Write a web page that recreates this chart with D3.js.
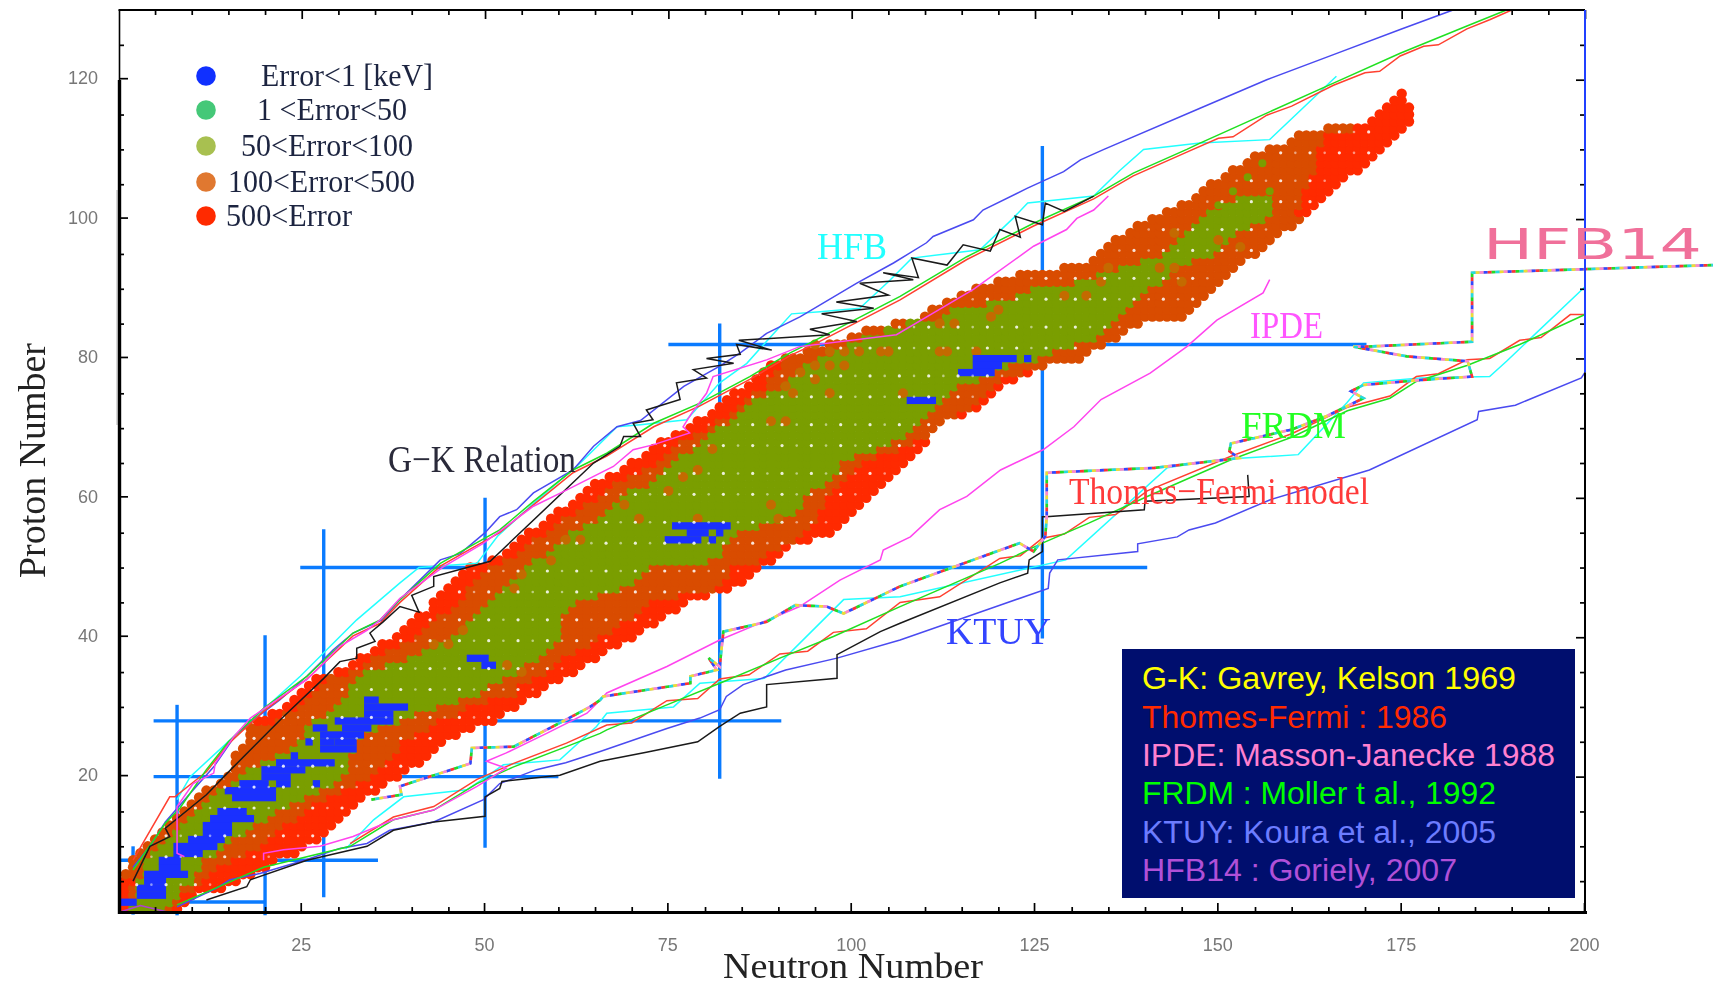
<!DOCTYPE html>
<html><head><meta charset="utf-8">
<script src="https://d3js.org/d3.v7.min.js"></script>
<style>html,body{margin:0;padding:0;background:#fff;overflow:hidden}svg{display:block;filter:blur(.45px)}</style>
</head><body><svg id="c" width="1713" height="986"></svg>
<script>
// ---- nuclide band, one entry per proton number Z = 1..118 ----
const nMin    =[0,0,0,0,0,1,2,2,3,4,5,6,7,8,9,10,11,12,14,15,16,16,16,17,18,18,18,19,21,23,24,25,26,27,30,32,33,35,36,38,39,40,41,43,43,44,45,46,47,48,51,53,54,55,56,58,59,60,62,63,64,65,67,69,70,72,73,74,76,78,79,81,82,83,84,86,87,88,89,91,94,97,100,102,106,110,111,113,115,117,120,123,129,133,134,135,136,138,139,141,143,145,147,148,149,151,152,154,155,157,160,161,165,171,172,173,174,175];
const redLeft =[1,1,1,1,2, 0,1,1,2,3,4,5,6,7,8,9,10,11,13,14,15,15,15,16,17,17,17, 21,22,24,25,26,27,28,31,33,34,36,38,40,41,42,43,45,46,47,47,48,49,50,52,54,55,56,58,59,60,62,63,65,66,67,69,71,73,74,75,76,78,80,81,83,84,85,86,88,88,89,90, 90,93,96,99,101,105,109,110,112,114,116,119,122,128,132,133,134,135,137,138,140,142,144,146,147,148,150,151,153,154,156,159,160, 164,176,176,176,175,175];
const orangeLeft=[1,1,2,2,2,3,3,3,4,5,6,7,8,9,10,11,12,13,15,16,17,19,21,23,24,25,25,26,28,29,30,31,31,32,33,36,39,41,43,45,46,47,48,49,50,51,52,53,54,55,56,58,59,60,61,63,65,66,67,68,69,72,73,74,75,76,78,79,80,81,83,84,85,86,88,90,91,92,93,95,97,99,101,104,107,112,113,118,122,124,130,133,136,139,142,143,144,145,146,147,148,150,152,158,161,161,162,162,163,163,164,164,168,176,176,176,175,175];
const greenEnd=[6,7,8,8,10,10,11,11,13,14,15,17,18,20,21,23,25,27,29,30,31,31,31,32,32,33,35,38,40,43,46,49,50,52,54,55,57,58,59,60,60,60,60,61,62,65,68,70,71,72,80,82,82,83,84,87,90,92,93,93,94,96,97,98,98,100,103,105,107,108,109,110,111,112,113,114,117,119,121,125,127,130,133,134,135,136,137,138,139,140,142,143,144,146,149,150,151,152,154,156,157,157,157,158,161,161,162,162,163,163,164,164,168,176,176,176,175,175];
const orangeEnd=[7,8,8,10,11,12,13,15,17,19,20,21,22,24,25,26,28,30,32,34,35,36,37,38,38,40,42,43,46,47,50,54,54,56,58,59,60,62,64,65,67,68,70,71,72,76,81,82,83,83,87,88,90,92,93,94,95,95,96,96,97,98,99,100,101,103,106,108,110,111,112,114,116,117,118,119,120,123,126,131,132,134,136,137,139,145,146,147,148,149,150,151,152,153,155,156,157,158,160,161,160,161,161,161,162,162,163,163,163,163,164,164,168,176,176,176,175,175];
const nMax    =[8,9,10,14,16,18,20,21,24,25,27,28,29,30,31,32,33,35,36,38,39,41,42,43,44,46,48,51,52,54,55,57,58,60,62,63,65,66,68,70,71,73,74,76,77,80,83,85,86,87,89,90,91,94,97,98,99,100,101,102,103,104,105,106,107,108,109,110,110,111,112,115,117,118,119,120,122,124,126,131,132,134,136,137,139,145,146,147,148,149,150,151,152,153,155,156,157,158,160,161,162,163,164,165,166,167,169,170,171,172,173,174,175,176,176,176,175,175];
const blueRows=[[2,0,2],[3,3,6],[4,3,6],[5,4,6],[6,4,9],[7,6,8],[8,6,8],[9,8,11],[10,8,13],[11,10,14],[12,12,15],[13,12,15],[14,13,18],[15,14,17],[17,16,21],[18,15,21],[19,17,20],[19,22,23],[19,27,27],[20,20,23],[21,20,25],[22,22,29],[23,24,24],[24,28,32],[25,26,26],[25,28,29],[25,30,32],[26,28,33],[27,27,28],[27,31,34],[28,30,37],[29,34,37],[30,34,39],[31,34,35],[37,48,50],[36,50,51],[56,76,83],[55,78,80],[55,82,82],[54,75,79],[54,81,81],[80,117,122],[80,124,124],[79,117,120],[78,115,119],[74,108,111]];
const orangeSpots=[[97,79],[99,79],[95,79],[95,82],[97,81],[99,81],[101,81],[104,81],[105,81],[91,76],[97,75],[89,71],[91,71],[93,78],[92,75],[95,77],[81,67],[79,64],[77,63],[75,61],[71,57],[69,59],[63,54],[61,54],[59,51],[55,49],[54,47],[47,41],[45,39],[43,39],[53,36],[55,35],[79,57],[89,59],[90,57],[107,75],[105,81],[112,81],[113,81],[117,81],[114,85],[112,85],[119,86],[120,87],[132,89],[129,89],[135,93],[134,91],[142,93],[144,93],[145,91],[150,97],[153,96],[144,98]];
const greenSpots=[[152,104],[157,104],[154,106],[150,102],[156,108]];
// rows / columns of the pale gaps left between the discs
const gapZ=[4.5,8.5,11.5,15.5,18.5,21.5,25.5,28.5,32.5,35.5,39.5,42.5,46.5,49.5,53.5,56.5,60.5,63.5,67.5,70.5,74.5,77.5,81.5,84.5,88.5,91.5,95.5,98.5,102.5,105.5,109.5,112.5];
const gapN=[2.5,6.5,10.5,14.5,18.5,22.5,26.5,30.5,34.5,38.5,42.5,46.5,50.5,54.5,58.5,62.5,66.5,70.5,74.5,78.5,82.5,86.5,90.5,94.5,98.5,102.5,106.5,110.5,114.5,118.5,122.5,126.5,130.5,134.5,138.5,142.5,146.5,150.5,154.5,158.5,162.5,166.5,170.5];
const gapNFaint=[4.5,8.5,12.5,16.5,20.5,24.5,28.5,32.5,36.5,40.5,44.5,48.5,52.5,56.5,60.5,64.5,68.5,72.5,76.5,80.5,84.5,88.5,92.5,96.5,100.5,104.5,108.5,112.5,116.5,120.5,124.5,128.5,132.5,136.5,140.5,144.5,148.5,152.5,156.5,160.5,164.5,168.5];
// ---- magic numbers: [magic, from, to] ----
const magicN=[[2,0.2,10],[8,0.1,30.3],[20,0.1,40.3],[28,2.7,55.5],[50,9.8,60],[82,19.7,85],[126,39.8,110.5]];
const magicZ=[[2,0,20],[8,0,35.4],[20,4.8,60],[28,4.8,90.4],[50,24.8,140.3],[82,75,170.2]];
// ---- drip lines as [N, Z] ----
const ktuyUpper=[[2,7],[4.3,10],[6.4,13.5],[9.8,17.6],[13,21.4],[16,26],[19,28.6],[22,31],[25.7,34.4],[29.3,38.2],[32,40.6],[36,42.5],[38.4,45.4],[43.9,51.1],[46.6,52],[50,55],[52,57.3],[54.3,58.3],[56.6,60.7],[62,64],[64.8,67.4],[68,70.2],[71.2,71.1],[77.1,76],[82,78.9],[84.8,80.8],[88.4,83.6],[93,86],[100.7,90.8],[105.7,93.7],[110.2,96.6],[111.1,97.5],[116.6,99.9],[117.9,101.3],[123.9,104.4],[128.9,106.8],[131.2,108.5],[134.4,110],[147.5,115.9],[156.6,120],[165.7,123.6],[174.8,127.2],[182,130]];
const ktuyLower=[[8,1.3],[13.4,4],[15.2,5.2],[19.3,6.1],[25.7,8.1],[30.2,9.7],[33.9,10.4],[37,12.3],[43,13.5],[49.8,16.7],[52,19],[57,21],[61,22],[65.7,23.6],[74.8,26.9],[79.3,28.4],[82,29.6],[82.9,31.5],[85.2,33.2],[91,35.3],[98,37],[106.6,39.6],[120.2,44.6],[126.8,47],[127,49.2],[128.1,51.1],[139,52.3],[139,53.4],[144.4,54.4],[146,55.4],[149.6,56.4],[157,59.7],[170.6,64],[185.3,71.2],[185.5,72.4],[190.5,73.3],[199.5,77.2],[200,78]];
const frdmUpper=[[2,6.6],[6.4,13.3],[8.4,15.5],[12,21],[15,25],[19.8,29.8],[25.7,34.4],[32,40.6],[35.7,42.5],[38.4,45.4],[43.9,50.6],[48.4,53.3],[52,55.4],[56.6,59.5],[62,64],[66.6,66.4],[73,70.7],[79.3,73.6],[86.1,77.4],[91.6,80.8],[95.2,82.7],[106.6,88.9],[115.7,94.6],[124.8,99.4],[133,103.3],[138.4,106.6],[145.7,110],[147.5,110.9],[156.6,115.2],[165.7,119.5],[174.8,123.8],[183.9,127.7],[189.3,130]];
const tfUpper=[[2,8],[7,17.1],[7.7,17.1],[12,20.7],[15,24.7],[19.8,29.4],[25.7,34],[32,40.2],[35.7,42],[38.4,45],[43.9,50.2],[48.4,52.9],[52,55],[56.6,59],[62,63.6],[66.6,66],[73,70.2],[79.3,73.2],[86.1,77],[91.6,80.4],[95.2,82.2],[106.6,88.4],[115.7,94.2],[124.8,99],[133,102.9],[138.4,106.2],[145.7,109.6],[150,111.6],[152,111.8],[156.6,114.9],[160,116.2],[165.7,119.2],[170,121],[172,121.2],[174.8,123.4],[178,124.8],[180,125],[183.9,127.3],[187,128.6],[190,130],[192.5,130]];
const frdmLower=[[8,1.6],[19.8,7],[31.6,10],[37.5,13.8],[43,15.2],[48.9,19],[53.9,21.4],[61.1,24.3],[65.7,26.2],[66.6,26.7],[74.8,30.3],[82,33.4],[90.2,37],[97.5,40.1],[106.6,44.4],[120.2,50.6],[126,53.5],[132.4,56.4],[140.3,60.2],[151.8,65.5],[160,68.7],[167.6,72.5],[173.4,74.3],[177,76.7],[183.9,79],[191.1,82],[200,86.3]];
const tfLower=[[31.6,10.4],[37.5,14.2],[43,15.7],[48.9,19.6],[53.9,21.9],[61.1,24.8],[66.6,27.4],[70,27.7],[74.8,30.9],[79,31.2],[82,34],[86,34.6],[90.2,37.6],[94,38],[97.5,40.7],[102,41.2],[106.6,45],[112,45.8],[120.2,51.3],[123,51.7],[126,54.2],[129,54.8],[132.4,57.2],[136,57.6],[140.3,61],[151.8,66],[160,69.2],[167.6,73],[173.4,74.6],[177,77.4],[180,77.8],[183.9,79.8],[187,80],[191.1,82.6],[194,83],[198,86.3],[200,86.3]];
const ipdeUpper=[[9,8.5],[8,9],[8,15.7],[10.2,19],[13,20.5],[13.2,21.9],[15.7,25.7],[18,28.4],[21.6,31],[25.7,33.9],[28,36.3],[30.2,38.7],[33.9,41],[35.7,42.5],[38.4,45.6],[44.3,50.1],[49.8,53.5],[56.6,58.8],[61.1,61.1],[67.5,64.5],[70.2,66.9],[72.9,67.6],[77.9,69.3],[77,70.2],[78.2,72.2],[80.2,75],[81.1,77.4],[88.4,79.8],[92.9,81.7],[106.1,83.4],[111.1,86.5],[116.6,89.9],[124.8,96.1],[129.3,98.5],[130.7,100.1],[133,101.3],[135,103.3]];
const ipdeLower=[[19.8,8],[19.8,9],[22.5,9.5],[27.5,10],[32,11.4],[37.5,13.8],[43,15.2],[48.9,18.6],[52.9,21.2],[50.2,22.2],[52.9,23.4],[58.4,26.2],[63.9,29.1],[65.7,31],[66.6,32],[74.8,35.8],[82,39.6],[92.9,44.4],[98.4,48.2],[103.9,51.1],[104.3,52.5],[108,54.4],[112,58.3],[115.7,60.2],[120.3,64],[126.1,66.9],[130.3,70.2],[134,74.1],[140.7,77.9],[145.7,81.7],[149.8,85.5],[156.1,89.4],[157,91.3]];
const hfbUpper=[[8,16.7],[9.8,20],[15.7,25.7],[24.8,34.4],[32.5,42.5],[38.4,47.8],[41,50],[48.9,50.6],[51.7,54.5],[56.6,59.2],[63,65],[68,70.2],[71.2,70.5],[77.5,71.2],[82,76.5],[85.7,79.3],[89.8,84.1],[91.8,86.4],[95.7,86.7],[101.1,87.2],[105,91],[108.2,94.4],[117.5,95.6],[122,100.1],[124,102.3],[133,103.3],[136.6,107],[139.8,110],[147.5,110.9],[157,111.4],[166.1,120.5]];
const hfbLower=[[31,9.6],[34.8,13.8],[38.9,17.1],[47.5,18.1],[50.2,20],[52.5,21.7],[60.2,22.4],[65.2,27.2],[66.6,29.1],[75.7,30],[79.3,33.4],[88.1,34.1],[98.9,45.4],[106.6,45.8],[129.2,51.1],[143,64.3],[150.3,65.5],[160.9,66.2],[167.5,73.6],[169.8,76.5],[177.5,77.2],[187,77.4],[189.3,79.6],[200,90.3]];
const gkUpper=[[2,5],[4.3,10],[7,11.4],[6.4,12.6],[12,17.4],[15.7,21.4],[22.5,28.6],[28,34.1],[30.2,36.5],[32.5,37],[32.5,38.4],[35,39.4],[34.3,40.6],[36.1,42.2],[38.4,44.4],[41,43.6],[40,46],[43,47.3],[43,48.7],[50.7,50.9],[64.8,65],[68.4,67.4],[68.9,68.8],[71.2,68.8],[70.2,70.7],[72.9,71.2],[72,72.6],[76.6,74.1],[76.1,76.5],[80.2,77.2],[78.4,78.4],[83.9,79.3],[80.2,80],[84.8,80.6],[84.3,82],[89.1,81.2],[84.6,82.6],[97,83.4],[94.3,84.2],[100.7,85.3],[95.9,86.4],[103,87.2],[97.9,88.1],[105,89.1],[101.1,90.8],[108.4,91.3],[104.3,92.3],[109.1,91.6],[108.2,94.4],[113,93.4],[115.2,96.3],[118.9,95.4],[120.2,98.5],[123,97.4],[122.3,100.4],[126,99.2],[126.4,102.3],[129,101.1],[133,103.3]];
const gkLower=[[12,2.3],[17.5,4.2],[18,5.2],[25.7,8],[33.9,10],[37.5,12.3],[43,13.5],[50,14.3],[50,17.1],[52,18.3],[52.3,19.3],[60.2,20.2],[65.7,22.2],[72,23.5],[79,25],[82,27.2],[84.8,29.1],[88.4,30],[88.4,33.2],[98,34.1],[98,37.5],[103.9,40.8],[106.6,42],[120.2,47.8],[124,49.2],[124.2,51.1],[126,52.3],[126,57.3],[126.5,57.3],[139.9,58.3],[140,59.5],[154.2,60.2],[154,63.3]];
const hfb14Lower=[[34.5,16.7],[38.6,17.4],[38.4,18.6],[48,21.9],[48.2,24.1],[53.9,24.3],[60.2,27.7],[64.3,30],[65.7,31],[66.1,31.5],[74.9,32.9],[78,33.4],[78,34.4],[81.6,35.3],[80.5,37],[82,35.8],[82.5,40.8],[88.4,42.2],[92.3,44.6],[96.6,44.4],[98.9,43.4],[106.6,47.3],[122.9,53.5],[124.8,52.3],[126.4,54.5],[126.6,57.3],[126.6,63.6],[141.3,64.3],[152.8,65.7],[151.5,66.7],[151.7,67.8],[160,69.8],[164.7,71.7],[169.8,74.3],[168.1,75.3],[169.8,76.2],[177.5,76.9],[184.6,77.4],[184,79.6],[175.7,80.3],[168.4,81.7],[170.2,81.7],[184.6,82.4],[184.6,92.3],[217.5,93.4]];
const stray=[[0,0.5],[3,1.5],[7,0.5]];
const rainbow=["#22dd22","#ff3333","#3344ff","#ff88cc","#eedd33","#22dddd"];
// ---- legends and labels ----
const legendLabels=["Error<1 [keV]","1 <Error<50","50<Error<100","100<Error<500","500<Error"];
const legendColors=["#1030ff","#45c878","#a8c050","#e07830","#ff2a00"];
const creditLabels=["G-K: Gavrey, Kelson 1969","Thomes-Fermi : 1986","IPDE: Masson-Janecke 1988","FRDM : Moller t al., 1992","KTUY: Koura et al., 2005","HFB14 : Goriely, 2007"];
const creditColors=["#ffff00","#ff2a00","#ff80d0","#00ff00","#6c7cff","#b050d8"];
const C={red:"#ff2a00",orange:"#d94c00",green:"#7a9e00",blue:"#1a30ff",magic:"#0a7bff"};

const svg=d3.select("#c");
const x=d3.scaleLinear().domain([0,200]).range([118.4,1585]);
const y=d3.scaleLinear().domain([0,130]).range([916,10]);
const FONT="'Liberation Serif',serif", SANS="'Liberation Sans',sans-serif";
const line=d3.line().x(d=>x(d[0])).y(d=>y(d[1]));
svg.append("clipPath").attr("id","plot").append("rect").attr("x",119).attr("y",10).attr("width",1466).attr("height",902);

// magic lines under the discs
const gm=svg.append("g").attr("stroke",C.magic).attr("stroke-width",3.4);
gm.selectAll(".v").data(magicN).join("line").attr("x1",d=>x(d[0])).attr("x2",d=>x(d[0])).attr("y1",d=>y(d[1])).attr("y2",d=>y(d[2]));
gm.selectAll(".h").data(magicZ).join("line").attr("y1",d=>y(d[0])).attr("y2",d=>y(d[0])).attr("x1",d=>x(d[1])).attr("x2",d=>x(d[2]));

// discs
const cells=[], have=new Set();
nMin.forEach((lo,i)=>{
  const z=i+1;
  for(let n=lo;n<=nMax[i];n++){
    let col=C.red;
    if(n<=redLeft[i]) col=C.red;
    else if(n<=orangeLeft[i]) col=C.orange;
    else if(n<=greenEnd[i]) col=C.green;
    else if(n<=orangeEnd[i]) col=C.orange;
    cells.push({n,z,col}); have.add(n+"_"+z);
  }
});
const gc=svg.append("g").attr("clip-path","url(#plot)");
gc.selectAll("circle.c").data(cells).join("circle").attr("class","c").attr("cx",d=>x(d.n)).attr("cy",d=>y(d.z)).attr("r",5.2).attr("fill",d=>d.col);
gc.selectAll("circle.s").data(orangeSpots).join("circle").attr("class","s").attr("cx",d=>x(d[0])).attr("cy",d=>y(d[1])).attr("r",5).attr("fill","#c46a00");
gc.selectAll("circle.g").data(greenSpots).join("circle").attr("class","g").attr("cx",d=>x(d[0])).attr("cy",d=>y(d[1])).attr("r",4).attr("fill",C.green);
gc.selectAll("rect.b").data(blueRows).join("rect").attr("class","b")
  .attr("x",d=>x(d[1]-0.5)).attr("width",d=>x(d[2]+0.5)-x(d[1]-0.5))
  .attr("y",d=>y(d[0]+0.5)).attr("height",y(0)-y(1)+0.3).attr("fill",C.blue);
// pale gaps
function gapPoints(cols){
  const out=[];
  gapZ.forEach(z=>cols.forEach(n=>{
    const a=n-0.5,b=n+0.5,c=z-0.5,d=z+0.5;
    if(have.has(a+"_"+c)&&have.has(b+"_"+c)&&have.has(a+"_"+d)&&have.has(b+"_"+d)) out.push([n,z]);
  }));
  return out;
}
gc.selectAll("circle.w").data(gapPoints(gapN)).join("circle").attr("class","w").attr("cx",d=>x(d[0])).attr("cy",d=>y(d[1])).attr("r",1.6).attr("fill","#fff").attr("opacity",.85);
gc.selectAll("circle.f").data(gapPoints(gapNFaint)).join("circle").attr("class","f").attr("cx",d=>x(d[0])).attr("cy",d=>y(d[1])).attr("r",1.3).attr("fill","#fff").attr("opacity",.5);

// drip lines
const series=[[hfbUpper,"#22ffff"],[hfbLower,"#22ffff"],[ktuyUpper,"#4a4af0"],[ktuyLower,"#4a4af0"],[tfUpper,"#ff4030"],[tfLower,"#ff4030"],[frdmUpper,"#20e020"],[frdmLower,"#20e020"],[gkUpper,"#1a1a1a"],[gkLower,"#1a1a1a"],[ipdeUpper,"#ff44ee"],[ipdeLower,"#ff44ee"],[stray,"#b040d0"]];
svg.append("g").attr("fill","none").selectAll("path").data(series).join("path")
  .attr("d",d=>line(d[0])).attr("stroke",d=>d[1]).attr("stroke-width",1.5);
const gr=svg.append("g").attr("fill","none");
gr.append("path").attr("d",line(hfb14Lower)).attr("stroke","#b9b9c9").attr("stroke-width",2.6);
gr.selectAll("path.r").data(rainbow).join("path").attr("class","r").attr("d",line(hfb14Lower)).attr("stroke",d=>d).attr("stroke-width",2.6)
  .attr("stroke-dasharray","4 20").attr("stroke-dashoffset",(d,i)=>i*4);

// axes
const minorX=d3.range(0,201,5).filter(v=>v%25), majorX=[25,50,75,100,125,150,175,200];
const minorY=d3.range(5,130,5).filter(v=>v%20), majorY=[20,40,60,80,100,120];
function axis(gen,scale,vals,size,tx,ty,fmt,pad){
  const g=svg.append("g").attr("transform",`translate(${tx},${ty})`)
    .call(gen(scale).tickValues(vals).tickSize(size).tickSizeOuter(0).tickPadding(pad||3).tickFormat(fmt||""));
  g.select(".domain").remove();
  g.selectAll("line").attr("stroke","#000").attr("stroke-width",1.7);
  g.selectAll("text").attr("font-family",SANS).attr("font-size",18).attr("fill","#777");
  return g;
}
axis(d3.axisBottom,x,minorX,-5,0,912);
axis(d3.axisBottom,x,majorX,-9,-1,912,d3.format("d"),26);
axis(d3.axisTop,x,minorX,-5,0,10);
axis(d3.axisTop,x,majorX,-9,0,10);
axis(d3.axisLeft,y,minorY,-5,119,0);
axis(d3.axisLeft,y,majorY,-9,119,-1.5,d3.format("d"),21);
axis(d3.axisRight,y,minorY,-5,1585,0);
axis(d3.axisRight,y,majorY,-9,1585,0);
const frame=svg.append("g").attr("stroke","#000");
frame.append("rect").attr("x",116).attr("y",190).attr("width",3).attr("height",235).attr("fill","#d8d8d8").attr("stroke","none");
frame.append("line").attr("x1",118.5).attr("x2",1585).attr("y1",10).attr("y2",10).attr("stroke-width",1.8);
frame.append("line").attr("x1",119.5).attr("x2",119.5).attr("y1",10).attr("y2",80).attr("stroke-width",1.6);
frame.append("line").attr("x1",119.5).attr("x2",119.5).attr("y1",80).attr("y2",914).attr("stroke-width",3.4);
frame.append("line").attr("x1",118).attr("x2",1587).attr("y1",912.5).attr("y2",912.5).attr("stroke-width",3);
frame.append("line").attr("x1",1585).attr("x2",1585).attr("y1",10).attr("y2",y(78)).attr("stroke","#2040ff").attr("stroke-width",2);
frame.append("line").attr("x1",1585).attr("x2",1585).attr("y1",y(78)).attr("y2",914).attr("stroke-width",2);

function label(t,xl,xr,base,size,col,fam,w){
  return svg.append("text").text(t).attr("x",xl).attr("y",base).attr("font-family",fam||FONT).attr("font-size",size).attr("fill",col)
    .attr("font-weight",w||400).attr("textLength",xr-xl).attr("lengthAdjust","spacingAndGlyphs");
}
// legend
const legX=[[261,433],[257,407],[241,413],[228,415],[226,352]], legDot=[76,110,146,182,216], legBase=[85.5,119.5,155.5,191.5,225.5];
legendLabels.forEach((t,i)=>{
  svg.append("circle").attr("cx",206).attr("cy",legDot[i]).attr("r",9.8).attr("fill",legendColors[i]);
  label(t,legX[i][0],legX[i][1],legBase[i],31,"#1c2440");
});
// curve labels
label("HFB",817,887,259,38,"#22ffff");
label("G\u2212K Relation",388,576,472,38,"#2a2a3a");
label("IPDE",1250,1323,338,38,"#ff55ff");
label("FRDM",1241,1346,438,38,"#22ff22");
label("Thomes\u2212Fermi model",1069,1369,504,38,"#ff3a3a");
label("KTUY",946,1051,644,38,"#3344ff");
label("HFB14",1483,1702,259,42,"#f0709a","'DejaVu Sans',sans-serif");
label("Neutron Number",723,983,978,36,"#222");
svg.append("text").text("Proton Number").attr("transform","translate(45,578) rotate(-90)").attr("font-family",FONT).attr("font-size",37).attr("fill","#222").attr("textLength",235).attr("lengthAdjust","spacingAndGlyphs");
// credit box
svg.append("rect").attr("x",1122).attr("y",649).attr("width",453).attr("height",249).attr("fill","#000e6e");
const credBase=[689,728,766,804,843,881], credR=[1516,1447,1555,1496,1496,1457];
creditLabels.forEach((t,i)=>label(t,1142,credR[i],credBase[i],31,creditColors[i],SANS));
</script></body></html>
